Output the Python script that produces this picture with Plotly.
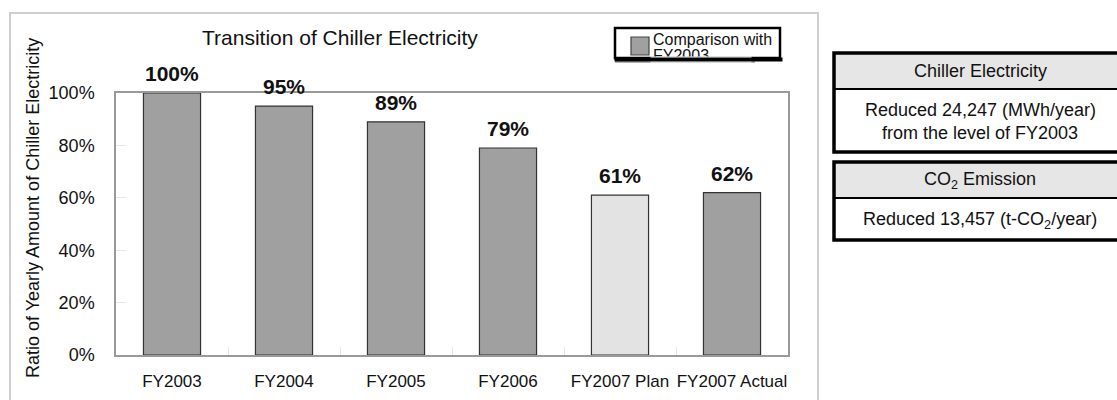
import plotly.graph_objects as go

categories = ["FY2003", "FY2004", "FY2005", "FY2006", "FY2007 Plan", "FY2007 Actual"]
values = [100, 95, 89, 79, 61, 62]
bar_colors = ["#a0a0a0", "#a0a0a0", "#a0a0a0", "#a0a0a0", "#e3e3e3", "#a0a0a0"]
y_ticks = [0, 20, 40, 60, 80, 100]
y_ticklabels = ["0%", "20%", "40%", "60%", "80%", "100%"]

W, H = 1117, 400
L, R, T, B = 116, 788, 93, 355


def px(x):
    return (x - L) / (R - L)


def py(y):
    return (B - y) / (B - T)


SANS = "Liberation Sans, Arial, sans-serif"

fig = go.Figure()
fig.add_trace(go.Bar(
    x=categories, y=values,
    marker=dict(color=bar_colors, line=dict(color="#333333", width=1.2)),
    showlegend=False, hoverinfo="skip",
))

shapes = []
annotations = []

# outer light frame
shapes.append(dict(type="rect", xref="paper", yref="paper",
                   x0=px(10), x1=px(818), y0=py(420), y1=py(13),
                   line=dict(color="#cfcfcf", width=2), layer="below"))

# value labels
for c, v in zip(categories, values):
    annotations.append(dict(x=c, y=v, xref="x", yref="y", text=f"<b>{v}%</b>",
                            showarrow=False, yanchor="bottom", yshift=6,
                            font=dict(family=SANS, size=21, color="#111111")))

# chart title
annotations.append(dict(x=px(340), y=py(37), xref="paper", yref="paper",
                        text="Transition of Chiller Electricity", showarrow=False,
                        xanchor="center", yanchor="middle",
                        font=dict(family=SANS, size=21, color="#111111")))
# y axis title
annotations.append(dict(x=px(33), y=py(208), xref="paper", yref="paper",
                        text="Ratio of Yearly Amount of Chiller Electricity",
                        textangle=-90, showarrow=False,
                        xanchor="center", yanchor="middle",
                        font=dict(family=SANS, size=18, color="#111111")))

# legend box
shapes.append(dict(type="rect", xref="paper", yref="paper",
                   x0=px(615), x1=px(780), y0=py(58), y1=py(28),
                   line=dict(color="#000000", width=2.5), fillcolor="white"))
shapes.append(dict(type="line", xref="paper", yref="paper",
                   x0=px(615), x1=px(755), y0=py(62), y1=py(62),
                   line=dict(color="#999999", width=1.5)))
shapes.append(dict(type="rect", xref="paper", yref="paper",
                   x0=px(631), x1=px(649), y0=py(55), y1=py(37),
                   line=dict(color="#444444", width=1.2), fillcolor="#a0a0a0"))
annotations.append(dict(x=px(651), y=py(39), xref="paper", yref="paper",
                        text="Comparison with", showarrow=False,
                        xanchor="left", yanchor="middle",
                        font=dict(family=SANS, size=16, color="#111111")))
annotations.append(dict(x=px(651), y=py(55), xref="paper", yref="paper",
                        text="FY2003", showarrow=False,
                        xanchor="left", yanchor="middle",
                        font=dict(family=SANS, size=16, color="#111111")))
# clip the overflowing legend text
annotations.append(dict(x=px(650), y=py(56.5), xref="paper", yref="paper",
                        text=" ", showarrow=False, xanchor="left", yanchor="top",
                        width=100, height=4.5, borderpad=0, bgcolor="white",
                        font=dict(size=1)))
annotations.append(dict(x=px(614), y=py(56.8), xref="paper", yref="paper",
                        text=" ", showarrow=False, xanchor="left", yanchor="top",
                        width=167, height=2.5, borderpad=0, bgcolor="black",
                        font=dict(size=1)))

# right info panels
panels = [
    dict(y0=53, ym=89, y1=152, head="Chiller Electricity",
         body=["Reduced 24,247 (MWh/year)", "from the level of FY2003"], by=[110, 133]),
    dict(y0=162, ym=198, y1=240, head="CO<sub>2</sub> Emission",
         body=["Reduced 13,457 (t-CO<sub>2</sub>/year)"], by=[220]),
]
for p in panels:
    shapes.append(dict(type="rect", xref="paper", yref="paper",
                       x0=px(834), x1=px(1130), y0=py(p["ym"]), y1=py(p["y0"]),
                       line=dict(width=0), fillcolor="#e6e6e6"))
    shapes.append(dict(type="rect", xref="paper", yref="paper",
                       x0=px(834), x1=px(1130), y0=py(p["y1"]), y1=py(p["y0"]),
                       line=dict(color="#000000", width=3.5)))
    shapes.append(dict(type="line", xref="paper", yref="paper",
                       x0=px(834), x1=px(1130), y0=py(p["ym"]), y1=py(p["ym"]),
                       line=dict(color="#000000", width=2)))
    annotations.append(dict(x=px(980), y=py((p["y0"] + p["ym"]) / 2), xref="paper", yref="paper",
                            text=p["head"], showarrow=False, xanchor="center", yanchor="middle",
                            font=dict(family=SANS, size=18, color="#111111")))
    for t, yy in zip(p["body"], p["by"]):
        annotations.append(dict(x=px(980), y=py(yy), xref="paper", yref="paper",
                                text=t, showarrow=False, xanchor="center", yanchor="middle",
                                font=dict(family=SANS, size=18, color="#111111")))

fig.update_layout(
    width=W, height=H, autosize=False,
    margin=dict(l=L, r=W - R, t=T, b=H - B, pad=0),
    paper_bgcolor="white", plot_bgcolor="white",
    bargap=0.49,
    shapes=shapes, annotations=annotations,
    showlegend=False,
)
fig.update_xaxes(
    showline=True, linecolor="#999999", linewidth=1.5, mirror=True,
    ticks="inside", tickson="boundaries", ticklen=8, tickcolor="#e6e6e6",
    showgrid=False, ticklabelstandoff=10, tickangle=0, automargin=False,
    tickfont=dict(family=SANS, size=17, color="#111111"),
)
fig.update_yaxes(
    range=[0, 100], tickvals=y_ticks, ticktext=y_ticklabels,
    showline=True, linecolor="#999999", linewidth=1.5, mirror=True,
    ticks="inside", ticklen=10, tickcolor="#e6e6e6",
    showgrid=False, zeroline=False, ticklabelstandoff=16, automargin=False,
    tickfont=dict(family=SANS, size=18, color="#111111"),
)

fig.write_html("out.html")
